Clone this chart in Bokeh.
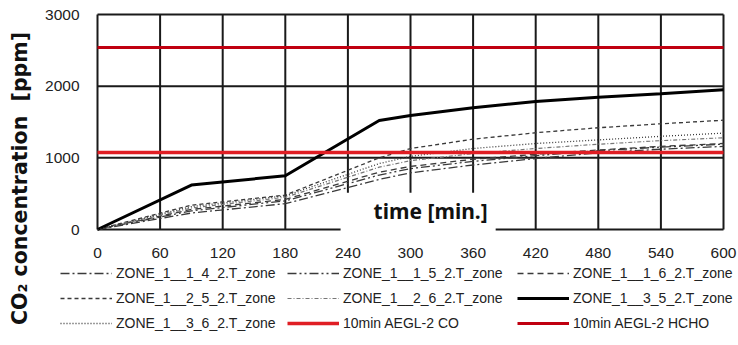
import math
from bokeh.plotting import figure
from bokeh.models import Label, Legend, LegendItem, FixedTicker, Range1d
from bokeh.embed import file_html
from bokeh.resources import INLINE

# ---- data ----
time_min = [0, 90, 180, 270, 300, 360, 420, 480, 540, 600]
zone_1_1_4 = [0, 230, 360, 700, 790, 900, 990, 1070, 1120, 1160]
zone_1_1_5 = [0, 260, 400, 760, 850, 950, 1030, 1100, 1150, 1190]
zone_1_1_6 = [0, 280, 420, 800, 880, 980, 1050, 1110, 1160, 1200]
zone_1_2_5 = [0, 340, 480, 1000, 1130, 1260, 1350, 1420, 1475, 1525]
zone_1_2_6 = [0, 300, 450, 870, 960, 1060, 1130, 1190, 1240, 1280]
zone_1_3_5 = [0, 620, 750, 1520, 1590, 1700, 1785, 1845, 1895, 1950]
zone_1_3_6 = [0, 320, 470, 920, 1020, 1130, 1200, 1250, 1300, 1345]
aegl_co = 1075
aegl_hcho = 2540
x_ticks = [0, 60, 120, 180, 240, 300, 360, 420, 480, 540, 600]
y_ticks = [0, 1000, 2000, 3000]

FONT = "Liberation Sans"
W, H = 738, 345
# plot-area placement (pixels)
PL, PR, PT, PB = 97, 15, 14, 116
sx = (W - PL - PR) / (x_ticks[-1] - x_ticks[0])
sy = (H - PT - PB) / (y_ticks[-1] - y_ticks[0])
x_range = Range1d(x_ticks[0] - PL / sx, x_ticks[-1] + PR / sx)
y_range = Range1d(y_ticks[0] - PB / sy, y_ticks[-1] + PT / sy)

p = figure(width=W, height=H, output_backend="svg", toolbar_location=None,
           x_range=x_range, y_range=y_range, min_border=0)
p.outline_line_color = None
p.background_fill_color = "white"
p.border_fill_color = "white"
p.xgrid.visible = False
p.ygrid.visible = False

for ax in (p.xaxis, p.yaxis):
    ax.fixed_location = 0
    ax.axis_line_color = None
    ax.major_tick_line_color = None
    ax.minor_tick_line_color = None
    ax.major_label_text_font = FONT
    ax.major_label_text_font_size = "15.5px"
    ax.major_label_text_color = "#222222"
    ax.major_label_standoff = 12
p.xaxis.ticker = FixedTicker(ticks=x_ticks)
p.yaxis.ticker = FixedTicker(ticks=y_ticks)

# chart grid (incl. border) limited to the plot area
p.segment(x0=x_ticks, y0=[y_ticks[0]] * len(x_ticks), x1=x_ticks, y1=[y_ticks[-1]] * len(x_ticks),
          line_color="#1a1a1a", line_width=2)
p.segment(x0=[x_ticks[0]] * len(y_ticks), y0=y_ticks, x1=[x_ticks[-1]] * len(y_ticks), y1=y_ticks,
          line_color="#1a1a1a", line_width=2)

gray = "#3a3a3a"
r142 = p.line(time_min, zone_1_1_4, line_color=gray, line_width=1.3, line_dash="9 3 2 3")
r152 = p.line(time_min, zone_1_1_5, line_color=gray, line_width=1.3, line_dash="9 3 2 3 2 3")
r162 = p.line(time_min, zone_1_1_6, line_color=gray, line_width=1.3, line_dash="6 4")
r252 = p.line(time_min, zone_1_2_5, line_color=gray, line_width=1.3, line_dash="4 3")
r262 = p.line(time_min, zone_1_2_6, line_color="#777777", line_width=1.2, line_dash="4 2 1 2")
r352 = p.line(time_min, zone_1_3_5, line_color="black", line_width=3)
r362 = p.line(time_min, zone_1_3_6, line_color=gray, line_width=1.3, line_dash="1 2")
rco = p.line([time_min[0], time_min[-1]], [aegl_co, aegl_co], line_color="#e01e24", line_width=3.5)
rhc = p.line([time_min[0], time_min[-1]], [aegl_hcho, aegl_hcho], line_color="#c00010", line_width=3)

# y axis title
p.add_layout(Label(x=19, y=H - 178, x_units="screen", y_units="screen", angle=math.pi / 2,
                   text="CO\u2082 concentration\u00a0\u00a0[ppm]", text_font="DejaVu Sans",
                   text_font_style="bold", text_font_size="20.5px", text_color="#111111",
                   text_align="center", text_baseline="middle"))

# x axis title inside the chart
p.add_layout(Label(x=233, y=240, text="time [min.]", text_font="Noto Sans",
                   text_font_style="bold", text_font_size="21px", text_color="#111111",
                   text_align="left", text_baseline="alphabetic",
                   background_fill_color="white",
                   padding=dict(left=33, right=8, top=4, bottom=7)))

legend_cols = [
    ([("ZONE_1__1_4_2.T_zone", r142), ("ZONE_1__2_5_2.T_zone", r252), ("ZONE_1__3_6_2.T_zone", r362)], 60),
    ([("ZONE_1__1_5_2.T_zone", r152), ("ZONE_1__2_6_2.T_zone", r262), ("10min AEGL-2 CO", rco)], 287),
    ([("ZONE_1__1_6_2.T_zone", r162), ("ZONE_1__3_5_2.T_zone", r352), ("10min AEGL-2 HCHO", rhc)], 517),
]
for items, xloc in legend_cols:
    lg = Legend(items=[LegendItem(label=t, renderers=[r]) for t, r in items],
                location=(xloc, 12), orientation="vertical",
                glyph_width=52, glyph_height=20, label_height=20,
                spacing=5, padding=0, margin=0, label_standoff=4,
                label_text_font=FONT, label_text_font_size="14px",
                label_text_color="#222222",
                border_line_color=None, background_fill_alpha=0)
    p.add_layout(lg)

open("out.html", "w").write(file_html(p, INLINE))
